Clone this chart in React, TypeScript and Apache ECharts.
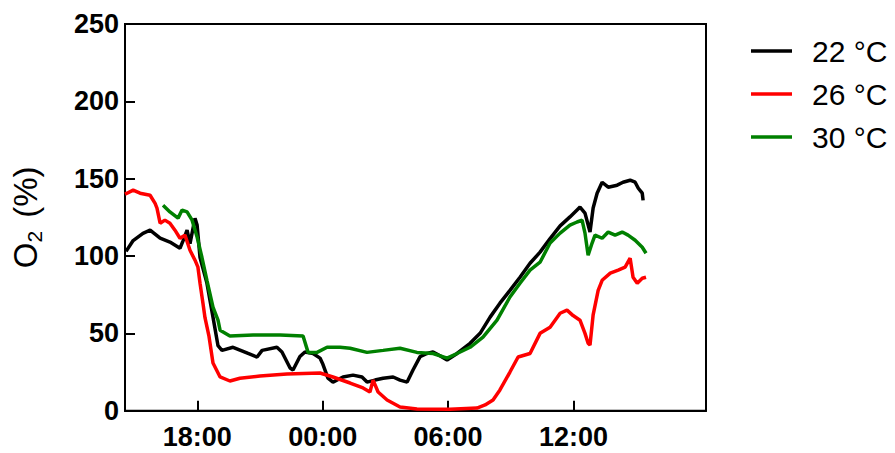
import React, { useEffect, useRef } from "react";
import * as echarts from "echarts";

// Time in hours since midnight of day 1 (24 = 00:00 next day)
const blackTime = [14.59,14.93,15.40,15.74,16.22,16.69,17.17,17.32,17.51,17.65,17.89,17.99,18.13,18.46,18.75,18.99,19.18,19.71,20.43,20.86,21.10,21.81,22.05,22.44,22.58,22.91,23.15,23.54,23.87,24.01,24.25,24.49,24.97,25.45,25.88,26.12,26.50,26.89,27.37,27.70,28.04,28.32,28.66,28.99,29.28,29.61,29.95,30.43,31.05,31.53,32.01,32.48,32.96,33.44,33.92,34.40,34.88,35.36,35.83,36.17,36.31,36.55,36.79,36.94,37.13,37.37,37.66,38.09,38.37,38.71,38.95,39.10,39.29,39.33];
const blackO2 = [103,110,114.7,116.7,111.5,109,105,110,116.7,108,124.4,120,99,82.5,60.5,42,39,41,37,34.7,39,41,38,27.6,26.3,35,38,37,34,30,21,18.5,21.8,23,21.8,18.5,19.8,21,21.8,19.8,18.5,26.3,35,37,38,35.5,32.8,37,43.6,50,60.5,69.5,77.8,86.3,95.3,102.5,111.3,119.5,125.3,129.8,131.6,127.7,115.5,131,140.6,147.7,144.5,145.8,147.7,149,147.7,143.8,140.6,136];

const redTime = [14.54,14.64,14.93,15.26,15.74,15.98,16.07,16.22,16.45,16.69,16.93,17.17,17.41,17.65,17.89,18.03,18.13,18.27,18.37,18.56,18.75,19.09,19.56,20.04,21.00,22.29,23.87,24.49,25.31,25.93,26.26,26.41,26.65,27.08,27.70,28.51,30.09,31.38,31.77,32.15,32.48,32.96,33.35,33.92,34.40,34.88,35.36,35.69,35.98,36.31,36.55,36.70,36.79,36.94,37.18,37.37,37.76,38.14,38.47,38.71,38.85,39.05,39.29,39.47];
const redO2 = [140,140.6,142.6,140.6,139.3,134,131,121.2,123.2,121.2,116.7,111.5,113.5,103.7,97.3,92.8,82.4,69.5,60,48,30.8,21.8,19.2,21,22.4,23.7,24.4,21.8,17.9,14.7,12.1,19.8,12.1,6.9,2.4,1.1,1,1.7,3.7,6.9,13.4,25,34.7,37,50,54,63,65,61.5,58.5,50,43.6,42.4,62,77.8,84.3,88.9,90.9,92.8,98.6,86.3,82.4,85.6,86.3];

const greenTime = [16.36,16.69,17.08,17.27,17.51,17.75,17.99,18.22,18.46,18.75,18.99,19.09,19.56,20.67,21.96,23.06,23.30,23.73,24.21,24.83,25.31,26.12,26.89,27.70,28.51,29.28,29.95,30.43,31.05,31.67,32.34,32.96,33.44,33.92,34.40,34.88,35.36,35.83,36.17,36.41,36.55,36.70,36.89,37.03,37.37,37.66,37.99,38.33,38.61,38.95,39.29,39.47];
const greenO2 = [132.8,128.5,124.5,129.7,128.5,123.2,112.3,99.2,84.3,67,58.5,52,48.3,48.9,48.9,48.3,37.7,37.7,41,41,40.4,37.7,39,40.4,37.7,37,34,37,41,47.6,58.5,73.5,82.4,90.9,96,108.4,114.8,120,122,123.2,114.8,100.5,108.4,113.5,111.5,115.5,113.5,115.5,113.5,110.2,105.7,101.8];

const seriesNames = ["22 °C", "26 °C", "30 °C"];
const seriesColors = ["#000000", "#ff0000", "#008000"];
const xTickHours = [18, 24, 30, 36];
const xMin = 14.54;
const xMax = 42.34;

const zip = (t: number[], v: number[]) => t.map((x, i) => [x, v[i]]);

const fmtHour = (v: number) => {
  const h = ((Math.round(v) % 24) + 24) % 24;
  return `${String(h).padStart(2, "0")}:00`;
};

export default function App() {
  const ref = useRef<HTMLDivElement>(null);
  useEffect(() => {
    if (!ref.current) return;
    const chart = echarts.init(ref.current, undefined, { renderer: "svg" });
    const font = "'Liberation Sans', Arial, sans-serif";
    const datasets = [zip(blackTime, blackO2), zip(redTime, redO2), zip(greenTime, greenO2)];
    chart.setOption({
      animation: false,
      backgroundColor: "#ffffff",
      grid: {
        left: 125,
        right: 189,
        top: 24,
        bottom: 42.3,
        show: true,
        borderColor: "#000",
        borderWidth: 2,
        containLabel: false,
      },
      legend: {
        orient: "vertical",
        left: 746,
        top: 30,
        itemWidth: 41,
        itemHeight: 3.5,
        itemGap: 11,
        icon: "rect",
        data: seriesNames,
        textStyle: {
          fontFamily: font,
          fontSize: 30,
          color: "#000",
          lineHeight: 32,
          padding: [0, 0, 0, 15],
        },
      },
      xAxis: {
        type: "value",
        min: xMin,
        max: xMax,
        axisLine: { show: true, lineStyle: { color: "#000", width: 2 } },
        axisTick: {
          show: true,
          inside: true,
          length: 10,
          lineStyle: { color: "#000", width: 2 },
          customValues: xTickHours,
        },
        axisLabel: {
          customValues: xTickHours,
          formatter: (v: number) => fmtHour(v),
          fontFamily: font,
          fontWeight: "bold",
          fontSize: 27,
          color: "#000",
          margin: 13,
        },
        splitLine: { show: false },
      },
      yAxis: {
        type: "value",
        min: 0,
        max: 250,
        interval: 50,
        name: "{o|O}{s|2}{o| (%)}",
        nameLocation: "middle",
        nameRotate: 90,
        nameGap: 80,
        nameTextStyle: {
          fontSize: 33,
          rich: {
            o: { fontFamily: font, fontSize: 33, color: "#000", lineHeight: 40 },
            s: { fontFamily: font, fontSize: 21, color: "#000", lineHeight: 21, verticalAlign: "bottom", padding: [0, 4, 0, 0] },
          },
        },
        axisLine: { show: true, lineStyle: { color: "#000", width: 2 } },
        axisTick: { show: true, inside: true, length: 10, lineStyle: { color: "#000", width: 2 } },
        axisLabel: {
          fontFamily: font,
          fontWeight: "bold",
          fontSize: 27,
          color: "#000",
          margin: 6,
        },
        splitLine: { show: false },
      },
      series: datasets.map((d, i) => ({
        name: seriesNames[i],
        type: "line",
        data: d,
        showSymbol: false,
        symbol: "none",
        color: seriesColors[i],
        lineStyle: { color: seriesColors[i], width: 3.5 },
        z: 2 + i,
      })),
    });
    return () => chart.dispose();
  }, []);
  return (
    <div
      ref={ref}
      style={{ position: "fixed", left: 0, top: 0, width: 895, height: 453, background: "#fff" }}
    />
  );
}
